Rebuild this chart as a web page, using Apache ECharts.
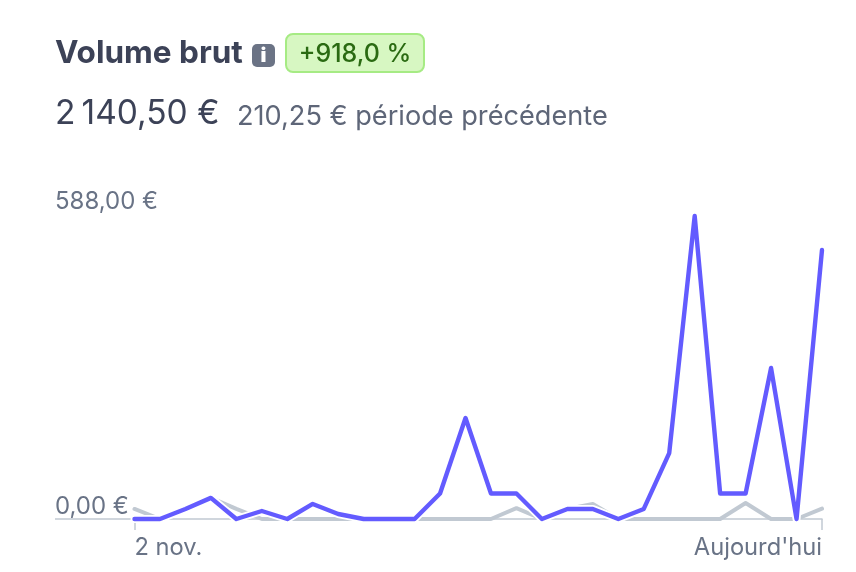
<![CDATA[<!DOCTYPE html>
<html><head><meta charset="utf-8">
<style>html,body{margin:0;padding:0;background:#fff}#c{width:856px;height:572px}</style>
<script src="https://cdn.jsdelivr.net/npm/echarts@6/dist/echarts.min.js"></script></head>
<body><div id="c"></div>
<script>
const categories = ["2 nov.","3 nov.","4 nov.","5 nov.","6 nov.","7 nov.","8 nov.","9 nov.","10 nov.","11 nov.","12 nov.","13 nov.","14 nov.","15 nov.","16 nov.","17 nov.","18 nov.","19 nov.","20 nov.","21 nov.","22 nov.","23 nov.","24 nov.","25 nov.","26 nov.","27 nov.","28 nov.","Aujourd'hui"];
const currentPeriod = [0,0,19.5,41,0,15.5,0,29.25,9.75,0,0,0,49.5,196,49.5,49.5,0,19.5,19.5,0,19.5,128,588,49.5,49.5,293,0,522];
const previousPeriod = [19.5,0,19,41,19.5,0,0,0,0,0,0,0,0,0,0,21,0,19.5,29,0,0,0,0,0,31,0,0,20];
const yTicks = ["0,00 €","588,00 €"];
const titleText = "Volume brut";
const badgeText = "+918,0 %";
const totalText = "2\u2009140,50 €";
const previousText = "210,25 € période précédente";

const FONT = 'Inter, "Noto Sans", sans-serif';
const chart = echarts.init(document.getElementById('c'), null, {renderer:'canvas'});
const labelColor = '#697386', grey = '#c1c9d2', purple = '#635bff';
chart.setOption({
  animation:false,
  backgroundColor:'#fff',
  grid:{left:134.5,right:34,top:216,bottom:53,containLabel:false},
  xAxis:{type:'category',boundaryGap:false,data:categories,
    axisLine:{show:true,lineStyle:{color:grey,width:1.5}},
    axisTick:{show:true,length:11,lineStyle:{color:grey,width:1.5},
      interval:(i)=>i===0||i===categories.length-1},
    axisLabel:{color:labelColor,fontFamily:FONT,fontSize:23.7,margin:17,
      interval:(i)=>i===0||i===categories.length-1,
      alignMinLabel:'left',alignMaxLabel:'right'},
    splitLine:{show:false}},
  yAxis:{type:'value',min:0,max:588,interval:588,
    axisLine:{show:false},axisTick:{show:false},splitLine:{show:false},
    axisLabel:{color:labelColor,fontFamily:FONT,fontSize:24,align:'left',margin:79.5,
      verticalAlign:'bottom',lineHeight:28,
      formatter:(v)=>v===0?'{z|'+yTicks[0]+'}':yTicks[1],
      rich:{z:{color:labelColor,fontFamily:FONT,fontSize:24,lineHeight:24}}}},
  series:[
    {name:'Période précédente',type:'line',data:previousPeriod,showSymbol:false,clip:false,z:2,
      lineStyle:{color:grey,width:4,cap:'round',join:'round'}},
    {name:'halo',type:'line',data:currentPeriod,showSymbol:false,clip:false,z:3,silent:true,
      lineStyle:{color:'#fff',width:8,cap:'round',join:'round'}},
    {name:'Période actuelle',type:'line',data:currentPeriod,showSymbol:false,clip:false,z:4,
      lineStyle:{color:purple,width:4.4,cap:'round',join:'round'}}
  ],
  graphic:[
    {type:'line',shape:{x1:55,y1:519,x2:131,y2:519},style:{stroke:grey,lineWidth:1.5}},
    {type:'text',x:55,y:54,style:{text:titleText,font:'700 31.5px '+FONT,fill:'#3c4257',textVerticalAlign:'middle'}},
    {type:'rect',shape:{x:252,y:44,width:23,height:23,r:5},style:{fill:'#6b7385'}},
    {type:'text',x:263.5,y:56,style:{text:'i',font:'900 20px '+FONT,fill:'#fff',textAlign:'center',textVerticalAlign:'middle'}},
    {type:'rect',shape:{x:286,y:34,width:138,height:38,r:7},style:{fill:'#d7f7c2',stroke:'#a6eb84',lineWidth:2}},
    {type:'text',x:355,y:54.5,style:{text:badgeText,font:'500 25px '+FONT,fill:'#2a6a12',textAlign:'center',textVerticalAlign:'middle'}},
    {type:'text',x:55,y:114,style:{text:totalText,font:'400 33.5px '+FONT,fill:'#3c4257',textVerticalAlign:'middle'}},
    {type:'text',x:237,y:116.5,style:{text:previousText,font:'400 27.15px '+FONT,fill:'#5e6678',textVerticalAlign:'middle'}}
  ]
});
</script></body></html>]]>
